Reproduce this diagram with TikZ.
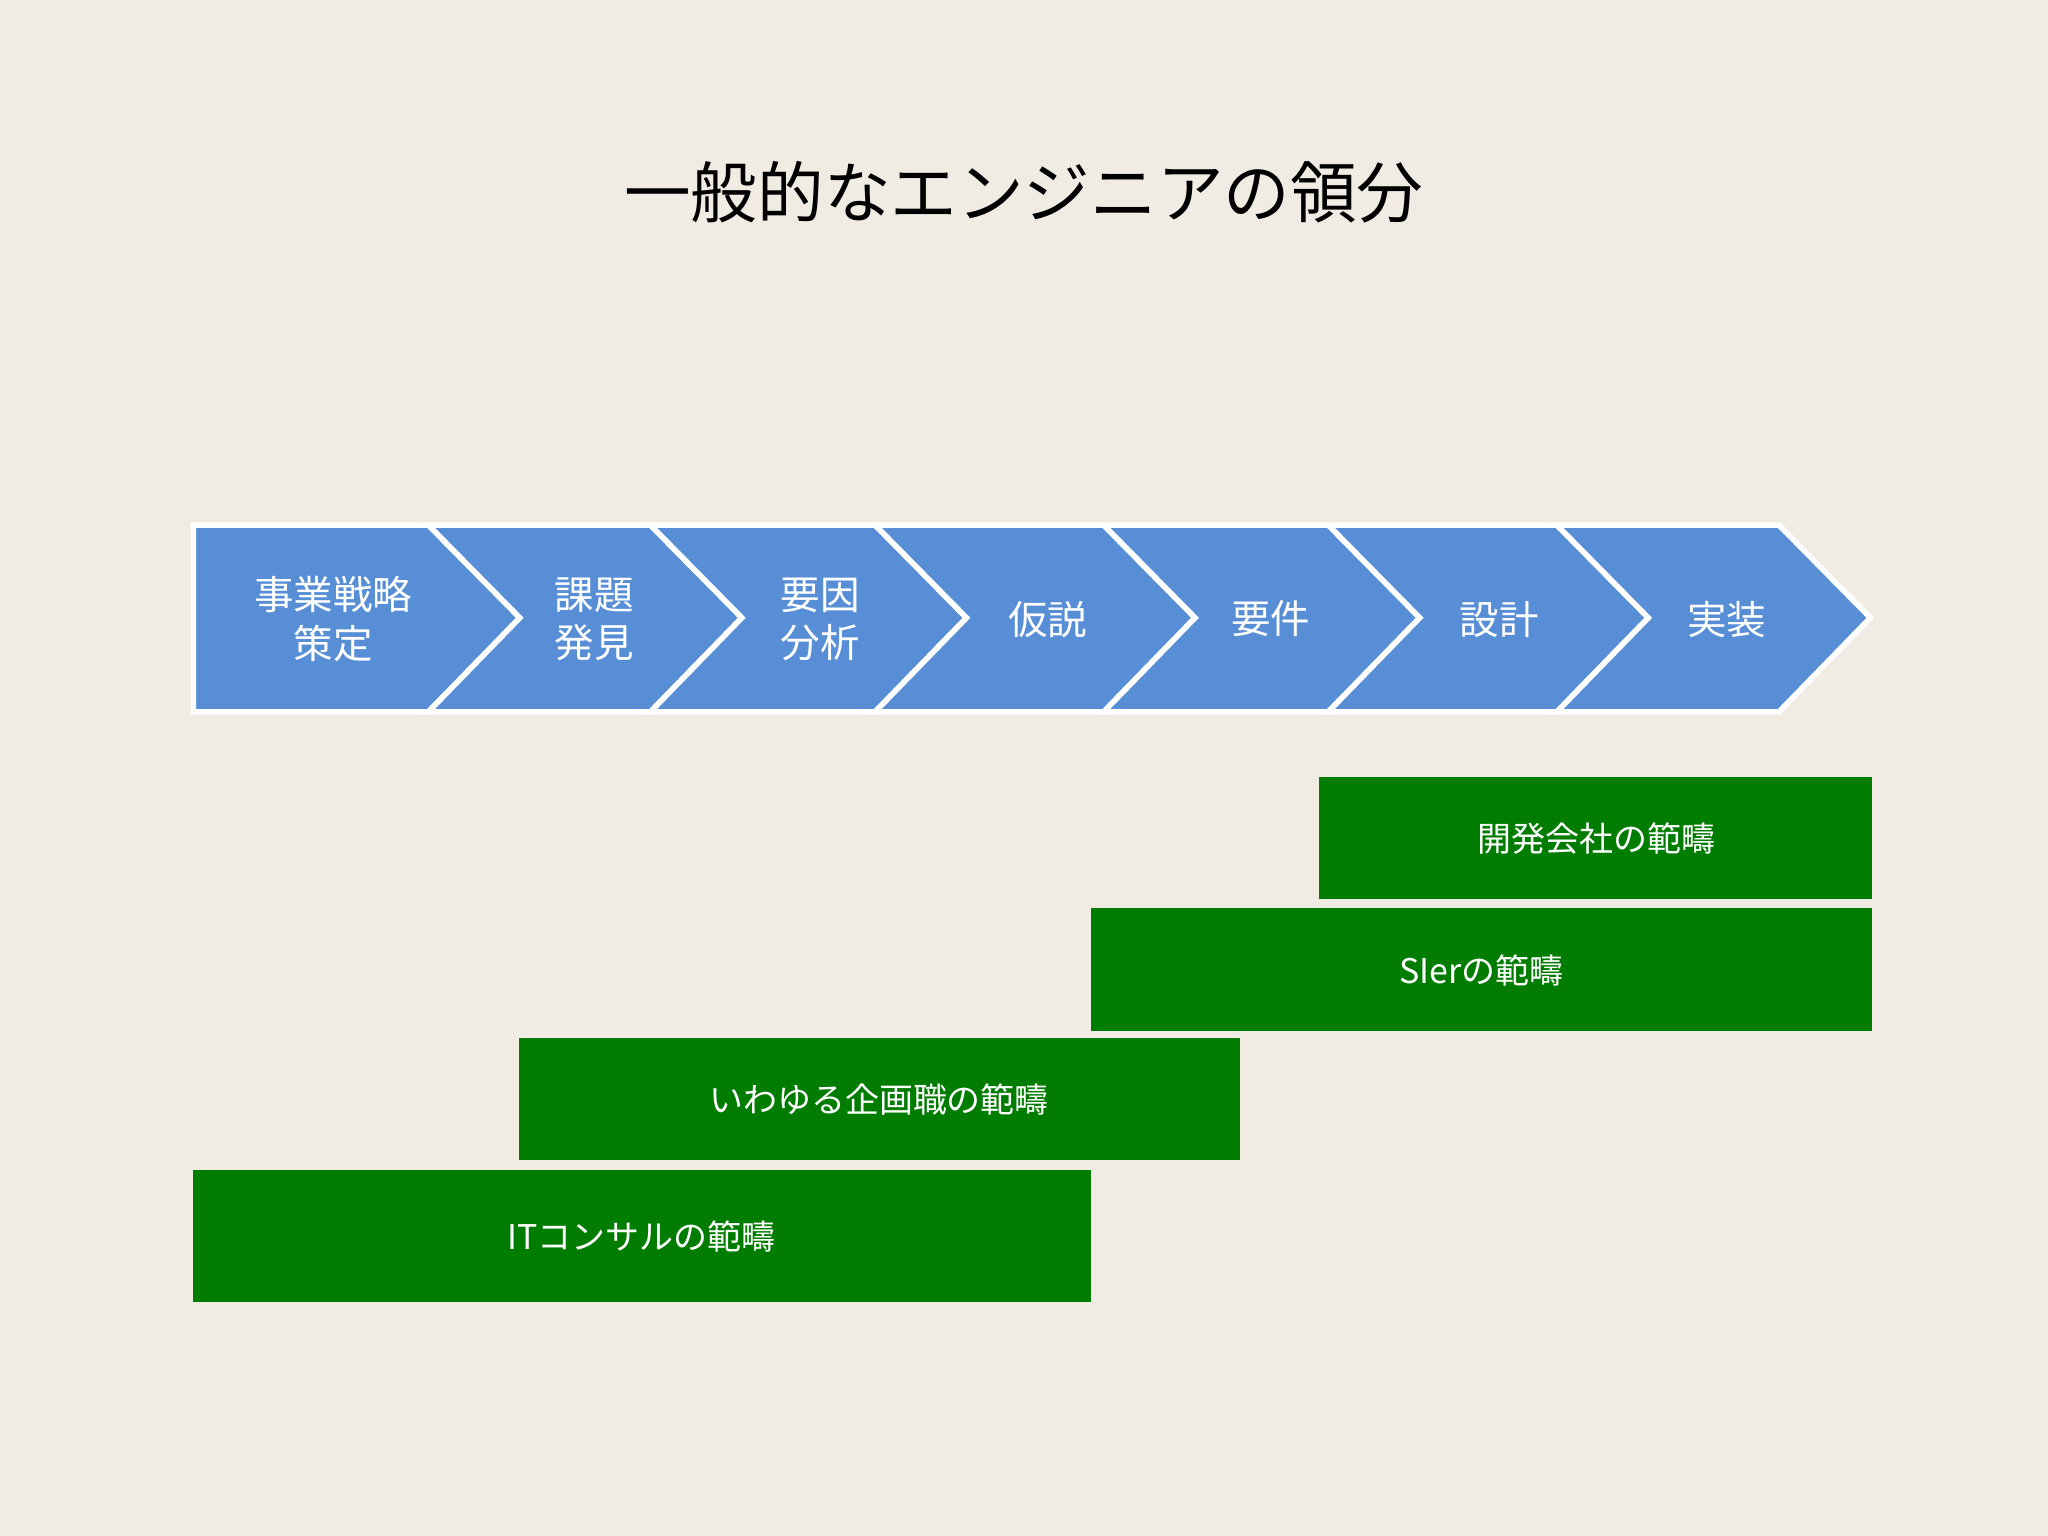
\documentclass[tikz,border=0pt]{standalone}
\usepackage{fontspec}
\newfontfamily\cjk{Noto Sans CJK JP}
\definecolor{bg}{HTML}{F0ECE3}
\definecolor{chev}{HTML}{578ED6}
\definecolor{grn}{HTML}{007D00}
\begin{document}
\begin{tikzpicture}[x=0.01cm,y=-0.01cm,
  chevtxt/.style={text=white,font=\cjk\fontsize{8.6}{10.5}\selectfont,align=center},
  bar/.style={fill=grn,draw=none},
  bartxt/.style={text=white,font=\cjk\fontsize{7.4}{9}\selectfont}]
\fill[bg] (0,0) rectangle (1568,1176);
\useasboundingbox (0,0) rectangle (1568,1176);
\node[font=\cjk\fontsize{14.5}{16}\selectfont] (title) at (784,147) {一般的なエンジニアの領分};
% first chevron (flat left)
\draw[fill=chev,draw=white,line width=1.2pt,line join=miter] (148,402) -- (328,402) -- (398,473) -- (328,545) -- (148,545) -- cycle;
\foreach \l/\r in {328/498,498/670,670/845,845/1017,1017/1192,1192/1362}{
  \draw[fill=chev,draw=white,line width=1.2pt,line join=miter] (\l,402) -- (\r,402) -- (\r+70,473) -- (\r,545) -- (\l,545) -- (\l+70,473) -- cycle;
}
\node[chevtxt] (c1) at (255,474) {事業戦略\\策定};
\node[chevtxt] (c2) at (455,474) {課題\\発見};
\node[chevtxt] (c3) at (628,474) {要因\\分析};
\node[chevtxt] (c4) at (802,474) {仮説};
\node[chevtxt] (c5) at (973,474) {要件};
\node[chevtxt] (c6) at (1148,474) {設計};
\node[chevtxt] (c7) at (1322,474) {実装};
\fill[bar] (1010,595) rectangle (1433,688);
\node[bartxt] (b1) at (1222,642) {開発会社の範疇};
\fill[bar] (835,695) rectangle (1433,789);
\node[bartxt] (b2) at (1134,743) {SIerの範疇};
\fill[bar] (397,795) rectangle (949,888);
\node[bartxt] (b3) at (673,842) {いわゆる企画職の範疇};
\fill[bar] (148,896) rectangle (835,997);
\node[bartxt] (b4) at (491,947) {ITコンサルの範疇};
\end{tikzpicture}
\end{document}
